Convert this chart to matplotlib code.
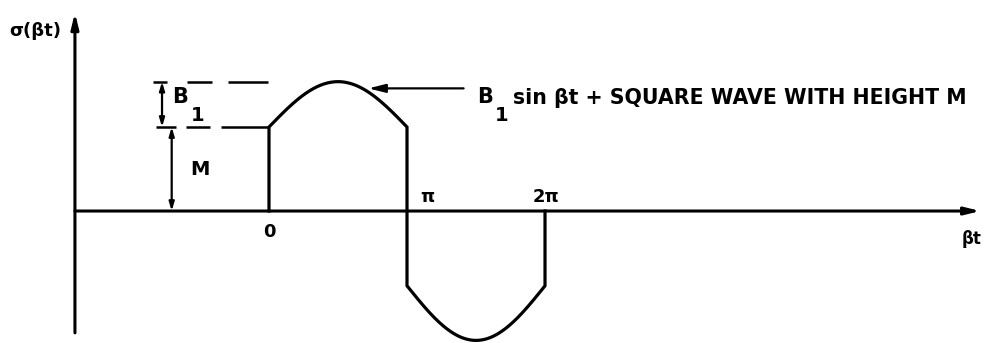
import matplotlib
matplotlib.use("Agg")
import matplotlib.pyplot as plt
import numpy as np

# Waveform parameters (x in units of pi, y in units of the square-wave height)
M_POS = 1.0        # square wave height, positive half
B1_POS = 0.54      # sine amplitude, positive half
M_NEG = 0.89       # square wave height, negative half
B1_NEG = 0.65      # sine amplitude, negative half

tick_positions = [0.0, 1.0, 2.0]
tick_labels = ["0", "π", "2π"]

FONT = "DejaVu Sans"
LW = 2.2

fig = plt.figure(figsize=(9.85, 3.43), dpi=100)
ax = fig.add_axes([0, 0, 1, 1])
ax.set_xlim(-1.949, 5.188)
ax.set_ylim(-1.571, 2.512)
ax.axis("off")

# axes with arrow heads
axis_arrow = dict(arrowstyle="-|>,head_length=0.9,head_width=0.22",
                  lw=LW, color="black", shrinkA=0, shrinkB=0)
ax.annotate("", xy=(-1.406, 2.36), xytext=(-1.406, -1.45), arrowprops=axis_arrow)
ax.annotate("", xy=(5.155, 0.0), xytext=(-1.406, 0.0), arrowprops=axis_arrow)

# B1 sin(bt) + square wave
xp = np.linspace(0, 1, 200)
yp = M_POS + B1_POS * np.sin(np.pi * xp)
xn = np.linspace(1, 2, 200)
yn = -(M_NEG + B1_NEG * np.sin(np.pi * (xn - 1)))
x = np.concatenate([[0.0], xp, xn, [2.0]])
y = np.concatenate([[0.0], yp, yn, [0.0]])
ax.plot(x, y, color="black", lw=2.3, solid_joinstyle="miter", clip_on=False)

# dashed reference levels (dash lengths are scaled by the line width)
ax.plot([-0.84, 0.0], [M_POS + B1_POS, M_POS + B1_POS], color="black",
        lw=1.8, dashes=(5.6, 8, 10, 6.4, 16, 4))
ax.plot([-0.82, 0.0], [M_POS, M_POS], color="black", lw=1.8,
        dashes=(8, 4, 9.6, 4.4, 19.2, 4))

# dimension arrows for B1 and M
dim_arrow = dict(arrowstyle="<|-|>,head_length=0.5,head_width=0.15",
                 lw=1.6, color="black", shrinkA=0, shrinkB=0)
ax.annotate("", xy=(-0.775, M_POS + B1_POS), xytext=(-0.775, M_POS),
            arrowprops=dim_arrow)
ax.annotate("", xy=(-0.705, M_POS), xytext=(-0.705, 0.0), arrowprops=dim_arrow)

txt = dict(family=FONT, fontweight="bold", color="black")
ax.text(-0.70, 1.36, "B", fontsize=15, ha="left", va="center", **txt)
ax.text(-0.565, 1.14, "1", fontsize=14, ha="left", va="center", **txt)
ax.text(-0.50, 0.50, "M", fontsize=14, ha="center", va="center", **txt)

# pointer to the curve
ax.annotate("", xy=(0.72, 1.46), xytext=(1.41, 1.46),
            arrowprops=dict(arrowstyle="-|>,head_length=1.0,head_width=0.25",
                            lw=1.6, color="black", shrinkA=0, shrinkB=0))
ax.text(1.51, 1.36, "B", fontsize=15, ha="left", va="center", **txt)
ax.text(1.635, 1.14, "1", fontsize=14, ha="left", va="center", **txt)
ax.text(1.765, 1.34, "sin βt + SQUARE WAVE WITH HEIGHT M", fontsize=14.8,
        ha="left", va="center", **txt)

# tick labels on the time axis
ax.text(tick_positions[0], -0.25, tick_labels[0], fontsize=13, ha="center",
        va="center", **txt)
ax.text(tick_positions[1] + 0.15, 0.17, tick_labels[1], fontsize=13,
        ha="center", va="center", **txt)
ax.text(tick_positions[2] + 0.01, 0.17, tick_labels[2], fontsize=13,
        ha="center", va="center", **txt)

ax.text(5.09, -0.33, "βt", fontsize=12, ha="center", va="center", **txt)
ax.text(-1.69, 2.14, "σ(βt)", fontsize=13, ha="center", va="center", **txt)

fig.savefig("out.png", dpi=100)
